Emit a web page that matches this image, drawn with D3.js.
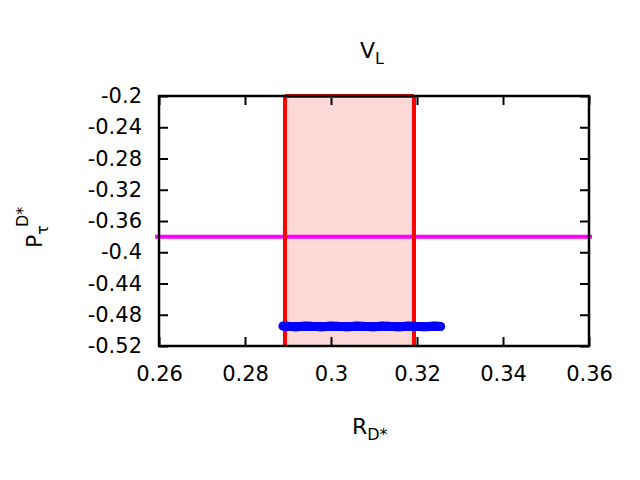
<!DOCTYPE html>
<html><head><meta charset="utf-8">
<script src="https://cdn.jsdelivr.net/npm/d3@7"></script>
<style>body{margin:0;background:#fff}text{font-family:"DejaVu Sans",sans-serif;fill:#000}</style>
</head><body><svg id="c" width="640" height="480"></svg>
<script>
const xTicks=[0.26,0.28,0.3,0.32,0.34,0.36];
const yTicks=[-0.2,-0.24,-0.28,-0.32,-0.36,-0.4,-0.44,-0.48,-0.52];
const band=[0.2893,0.3193];
const hLine=-0.38;
const ptsX=[0.2888,0.2905,0.292,0.294,0.296,0.298,0.300,0.302,0.304,0.306,0.308,0.310,0.312,0.314,0.316,0.318,0.320,0.322,0.324,0.3255];
const ptsY=[-0.4945,-0.495,-0.4955,-0.4945,-0.495,-0.4955,-0.4945,-0.495,-0.4955,-0.4945,-0.495,-0.4955,-0.4945,-0.495,-0.4955,-0.4945,-0.495,-0.4955,-0.4945,-0.495];
const svg=d3.select("#c");
const L=159,R=589,T=96,B=346;
const x=d3.scaleLinear().domain([0.26,0.36]).range([L,R]);
const y=d3.scaleLinear().domain([-0.52,-0.2]).range([B,T]);
const fmt=d=>String(+d.toFixed(2));
svg.append("rect").attr("x",x(band[0])).attr("y",T).attr("width",x(band[1])-x(band[0])).attr("height",B-T).attr("fill","#ffd8d8");
svg.append("line").attr("x1",L-4).attr("x2",R+3).attr("y1",y(hLine)).attr("y2",y(hLine)).attr("stroke","#ff00ff").attr("stroke-width",4);
const pts=[];
for(let i=0;i<ptsX.length-1;i++){for(let k=0;k<8;k++){const t=k/8;pts.push([ptsX[i]+(ptsX[i+1]-ptsX[i])*t,ptsY[i]+(ptsY[i+1]-ptsY[i])*t]);}}
pts.push([ptsX[ptsX.length-1],ptsY[ptsY.length-1]]);
const st=g=>{g.select(".domain").remove();g.selectAll("line").attr("stroke","#000").attr("stroke-width",2);g.selectAll("text").attr("font-size",null).style("font-size","21px").style("font-family","DejaVu Sans");g.attr("font-size",null).attr("font-family",null);};
svg.append("g").attr("transform",`translate(0,${B})`).call(d3.axisBottom(x).tickValues(xTicks).tickSize(-9).tickFormat(fmt).tickPadding(20)).call(st);
svg.append("g").attr("transform",`translate(0,${T})`).call(d3.axisTop(x).tickValues(xTicks).tickSize(-9).tickFormat("")).call(st);
svg.append("g").attr("transform",`translate(${L},0)`).call(d3.axisLeft(y).tickValues(yTicks).tickSize(-9).tickFormat(fmt).tickPadding(17)).call(st);
svg.append("g").attr("transform",`translate(${R},0)`).call(d3.axisRight(y).tickValues(yTicks).tickSize(-9).tickFormat("")).call(st);
[band[0],band[1]].forEach(v=>svg.append("line").attr("x1",x(v)).attr("x2",x(v)).attr("y1",T).attr("y2",B).attr("stroke","#ff0000").attr("stroke-width",4));
svg.append("line").attr("x1",x(band[0])).attr("x2",x(band[1])).attr("y1",T).attr("y2",T).attr("stroke","#ff0000").attr("stroke-width",4);
svg.selectAll("circle.p").data(pts).enter().append("circle").attr("cx",d=>x(d[0])).attr("cy",d=>y(d[1])).attr("r",4.5).attr("fill","#0000ff");
svg.append("rect").attr("x",L).attr("y",T).attr("width",R-L).attr("height",B-T).attr("fill","none").attr("stroke","#000").attr("stroke-width",2.5);
svg.append("text").attr("x",360).attr("y",58).style("font-size","22px").html('V<tspan dy="6" font-size="16">L</tspan>');
svg.append("text").attr("x",352).attr("y",434).style("font-size","22px").html('R<tspan dy="6" font-size="16">D*</tspan>');
svg.append("text").attr("transform","translate(42,248) rotate(-90)").style("font-size","22px").html('P<tspan dy="6" font-size="16">τ</tspan><tspan dy="-20" dx="-2" font-size="16">D*</tspan>');
</script></body></html>
